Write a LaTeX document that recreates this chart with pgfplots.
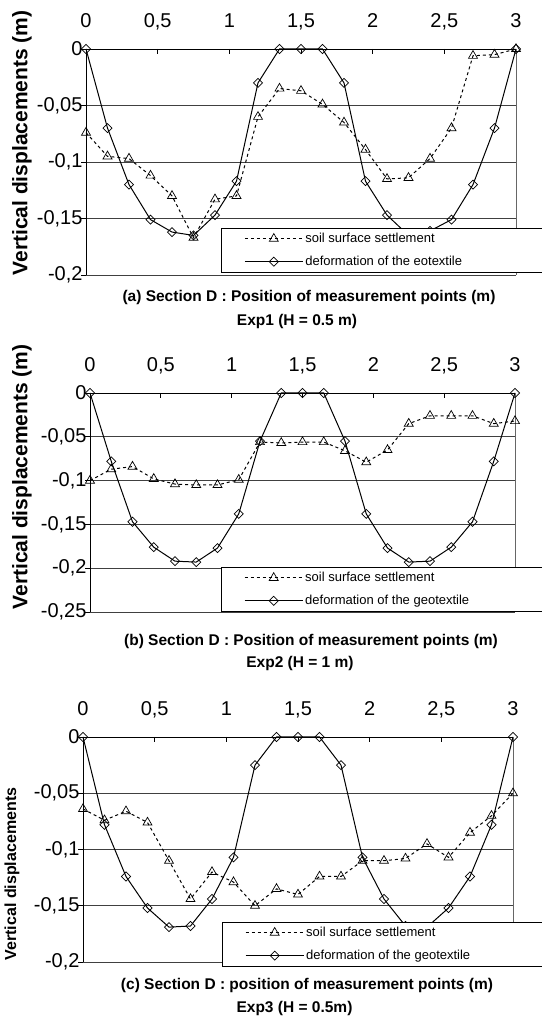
\documentclass[border=0pt]{standalone}
\usepackage{fontspec}
\setmainfont{Liberation Sans}
\usepackage{pgfplots}
\pgfplotsset{compat=1.18}
\begin{document}
\begin{tikzpicture}[x=1pt,y=1pt]
\useasboundingbox (0,0) rectangle (541,1019);
\pgfplotsset{
  panel/.style={
    scale only axis, clip=false,
    xmin=0, xmax=3, ymax=0,
    axis x line*=top, axis y line*=left,
    xtick={0,0.5,1,1.5,2,2.5,3}, xticklabels={0,{0,5},1,{1,5},2,{2,5},3},
    ticklabel style={font=\fontsize{20}{22}\selectfont},
    xticklabel style={yshift=13pt, text depth=5pt, text height=14pt},
    tick align=inside, major tick length=5pt,
    ytick style={xshift=-5pt},
    ymajorgrids, grid style={black!75, line width=0.8pt},
    axis line style={black, line width=0.8pt},
    tick style={black, line width=0.8pt},
    legend image code/.code={\draw[mark repeat=2,mark phase=2,##1] plot coordinates {(0pt,0pt) (29pt,0pt) (58pt,0pt)};},
    legend style={draw=black, line width=0.6pt, fill=white, font=\fontsize{13}{15}\selectfont, anchor=north west, legend cell align=left, row sep=8pt, inner xsep=23pt, inner ysep=3pt},
  },
  soil/.style={black, line width=1pt, dash pattern=on 3pt off 3pt, mark=triangle, mark size=5.2pt, mark options={solid, fill=white, line width=0.7pt}},
  geo/.style={black, line width=1pt, mark=square, mark size=3.2pt, mark options={solid, fill=white, rotate=45, line width=0.7pt}},
}
% ---------- Panel (a)
\begin{axis}[panel, at={(86pt,744pt)}, anchor=south west, width=430pt, height=226pt,
  ymin=-0.2, ytick={0,-0.05,-0.1,-0.15,-0.2}, yticklabels={0,{-0,05},{-0,1},{-0,15},{-0,2}},
  legend style={at={(0.314,0.208)}}]
\addplot[soil] coordinates {(0,-0.074)(0.15,-0.095)(0.3,-0.097)(0.45,-0.112)(0.6,-0.130)(0.75,-0.167)(0.9,-0.133)(1.05,-0.130)(1.2,-0.060)(1.35,-0.035)(1.5,-0.037)(1.65,-0.049)(1.8,-0.065)(1.95,-0.089)(2.1,-0.115)(2.25,-0.114)(2.4,-0.097)(2.55,-0.070)(2.7,-0.006)(2.85,-0.005)(3,0)};
\addplot[geo] coordinates {(0,0)(0.15,-0.070)(0.3,-0.120)(0.45,-0.151)(0.6,-0.162)(0.75,-0.165)(0.9,-0.147)(1.05,-0.117)(1.2,-0.030)(1.35,0)(1.5,0)(1.65,0)(1.8,-0.030)(1.95,-0.117)(2.1,-0.147)(2.25,-0.165)(2.4,-0.161)(2.55,-0.151)(2.7,-0.120)(2.85,-0.070)(3,0)};
\draw[black!60, line width=0.8pt] (rel axis cs:1,0) -- (rel axis cs:1,1);
\legend{\makebox[240pt][l]{soil surface settlement},\makebox[240pt][l]{deformation of the eotextile}}
\end{axis}
% ---------- Panel (b)
\begin{axis}[panel, at={(90pt,407pt)}, anchor=south west, width=425pt, height=219pt,
  ymin=-0.25, ytick={0,-0.05,-0.1,-0.15,-0.2,-0.25}, yticklabels={0,{-0,05},{-0,1},{-0,15},{-0,2},{-0,25}},
  legend style={at={(0.308,0.205)}}]
\addplot[soil] coordinates {(0,-0.100)(0.15,-0.087)(0.3,-0.084)(0.45,-0.098)(0.6,-0.104)(0.75,-0.105)(0.9,-0.105)(1.05,-0.099)(1.2,-0.056)(1.35,-0.057)(1.5,-0.056)(1.65,-0.056)(1.8,-0.066)(1.95,-0.079)(2.1,-0.065)(2.25,-0.035)(2.4,-0.026)(2.55,-0.026)(2.7,-0.026)(2.85,-0.035)(3,-0.032)};
\addplot[geo] coordinates {(0,0)(0.15,-0.078)(0.3,-0.147)(0.45,-0.176)(0.6,-0.192)(0.75,-0.193)(0.9,-0.177)(1.05,-0.138)(1.2,-0.055)(1.35,0)(1.5,0)(1.65,0)(1.8,-0.055)(1.95,-0.138)(2.1,-0.177)(2.25,-0.193)(2.4,-0.192)(2.55,-0.176)(2.7,-0.147)(2.85,-0.078)(3,0)};
\draw[black!60, line width=0.8pt] (rel axis cs:1,0) -- (rel axis cs:1,1);
\legend{\makebox[240pt][l]{soil surface settlement},\makebox[240pt][l]{deformation of the geotextile}}
\end{axis}
% ---------- Panel (c)
\begin{axis}[panel, at={(83pt,57pt)}, anchor=south west, width=430pt, height=225pt,
  ymin=-0.2, ytick={0,-0.05,-0.1,-0.15,-0.2}, yticklabels={0,{-0,05},{-0,1},{-0,15},{-0,2}},
  legend style={at={(0.323,0.178)}}]
\addplot[soil] coordinates {(0,-0.064)(0.15,-0.074)(0.3,-0.066)(0.45,-0.076)(0.6,-0.110)(0.75,-0.144)(0.9,-0.120)(1.05,-0.129)(1.2,-0.150)(1.35,-0.135)(1.5,-0.140)(1.65,-0.124)(1.8,-0.124)(1.95,-0.110)(2.1,-0.110)(2.25,-0.108)(2.4,-0.095)(2.55,-0.107)(2.7,-0.085)(2.85,-0.070)(3,-0.050)};
\addplot[geo] coordinates {(0,0)(0.15,-0.078)(0.3,-0.124)(0.45,-0.152)(0.6,-0.169)(0.75,-0.168)(0.9,-0.144)(1.05,-0.107)(1.2,-0.025)(1.35,0)(1.5,0)(1.65,0)(1.8,-0.025)(1.95,-0.107)(2.1,-0.144)(2.25,-0.168)(2.4,-0.169)(2.55,-0.152)(2.7,-0.124)(2.85,-0.078)(3,0)};
\draw[black!60, line width=0.8pt] (rel axis cs:1,0) -- (rel axis cs:1,1);
\legend{\makebox[240pt][l]{soil surface settlement},\makebox[240pt][l]{deformation of the geotextile}}
\end{axis}
% ---------- labels
\node[rotate=90, font=\bfseries\fontsize{21}{23}\selectfont] at (22,876) {Vertical displacements (m)};
\node[rotate=90, font=\bfseries\fontsize{21}{23}\selectfont] at (22,542) {Vertical displacements (m)};
\node[rotate=90, font=\bfseries\fontsize{16}{18}\selectfont] at (12,145) {Vertical displacements};
\node[font=\bfseries\fontsize{15.5}{17}\selectfont] at (309,721) {(a) Section D : Position of measurement points (m)};
\node[font=\bfseries\fontsize{15.5}{17}\selectfont] at (297,697) {Exp1 (H = 0.5 m)};
\node[font=\bfseries\fontsize{15.5}{17}\selectfont] at (311,378) {(b) Section D : Position of measurement points (m)};
\node[font=\bfseries\fontsize{15.5}{17}\selectfont] at (300,356) {Exp2 (H = 1 m)};
\node[font=\bfseries\fontsize{15.5}{17}\selectfont] at (307,34) {(c) Section D : position of measurement points (m)};
\node[font=\bfseries\fontsize{15.5}{17}\selectfont] at (294.5,11) {Exp3 (H = 0.5m)};
\end{tikzpicture}
\end{document}
